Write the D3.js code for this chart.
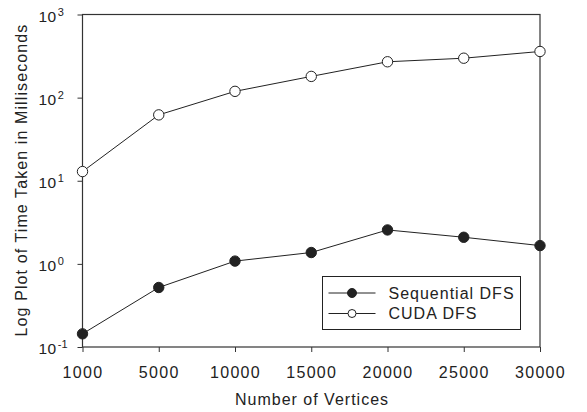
<!DOCTYPE html>
<html><head><meta charset="utf-8">
<script src="https://cdn.jsdelivr.net/npm/d3@7"></script>
<style>body{margin:0;background:#fff}svg{display:block}text{font-family:"Liberation Sans",Arial,sans-serif;fill:#222}</style>
</head><body>
<script>
const categories = [1000, 5000, 10000, 15000, 20000, 25000, 30000];
const sequentialDFS = [0.144, 0.52, 1.08, 1.37, 2.56, 2.09, 1.66];
const cudaDFS = [12.9, 62, 119, 180, 270, 298, 359];
const yTickExps = [-1, 0, 1, 2, 3];
const seriesNames = ["Sequential DFS", "CUDA DFS"];

const W = 587, H = 412;
const m = {left: 82.5, right: 47, top: 14.5, bottom: 65};
const svg = d3.select("body").append("svg").attr("width", W).attr("height", H);
const x = d3.scalePoint().domain(categories).range([m.left, W - m.right]);
const y = d3.scaleLog().domain([0.1, 1000]).range([H - m.bottom, m.top]);
const stroke = "#222";

// frame
svg.append("rect").attr("x", m.left).attr("y", m.top)
  .attr("width", W - m.right - m.left).attr("height", H - m.bottom - m.top)
  .attr("fill", "none").attr("stroke", "#333").attr("stroke-width", 1.2);

// axes
const xAxis = d3.axisBottom(x).tickSize(5).tickFormat(d => d);
const gx = svg.append("g").attr("transform", `translate(0,${H - m.bottom})`).call(xAxis);
gx.select(".domain").remove();
gx.selectAll(".tick line").attr("stroke", "#333");
gx.selectAll(".tick text").attr("dy", null).attr("y", 31).attr("font-size", "16px")
  .attr("letter-spacing", "1.3px").attr("fill", "#222");

const yAxis = d3.axisLeft(y).tickValues(yTickExps.map(e => Math.pow(10, e))).tickSize(5).tickFormat("");
const gy = svg.append("g").attr("transform", `translate(${m.left},0)`).call(yAxis);
gy.select(".domain").remove();
gy.selectAll(".tick line").attr("stroke", "#333");
gy.selectAll(".tick").each(function(d) {
  const e = Math.round(Math.log10(d));
  const t = d3.select(this).append("text").attr("y", 6.5)
    .attr("transform", "translate(-44,0)")
    .attr("text-anchor", "start").attr("font-size", "15.5px").attr("fill", "#222");
  t.append("tspan").attr("letter-spacing", "0.5px").text("10");
  t.append("tspan").attr("font-size", "11px").attr("dy", -6).attr("dx", 1).text(e);
});

// axis titles
svg.append("text").attr("x", 312).attr("y", 405).attr("text-anchor", "middle")
  .attr("font-size", "16px").attr("letter-spacing", "1px").text("Number of Vertices");
svg.append("text").attr("transform", "translate(27,180) rotate(-90)").attr("text-anchor", "middle")
  .attr("font-size", "16px").attr("letter-spacing", "1.1px").text("Log Plot of Time Taken in Milliseconds");

// lines
const line = d3.line().x((d, i) => x(categories[i])).y(d => y(d));
[[sequentialDFS, stroke], [cudaDFS, "#fff"]].forEach(([vals, fill]) => {
  svg.append("path").datum(vals).attr("d", line).attr("fill", "none").attr("stroke", stroke).attr("stroke-width", 1);
  svg.selectAll(null).data(vals).enter().append("circle")
    .attr("cx", (d, i) => x(categories[i])).attr("cy", d => y(d)).attr("r", 5.2)
    .attr("fill", fill).attr("stroke", stroke).attr("stroke-width", 1);
});

// legend
const lg = svg.append("g").attr("transform", "translate(322.5,276.5)");
lg.append("rect").attr("width", 198).attr("height", 53).attr("fill", "#fff").attr("stroke", stroke).attr("stroke-width", 1);
seriesNames.forEach((name, i) => {
  const yy = 16.5 + i * 20.5;
  lg.append("line").attr("x1", 6).attr("x2", 53).attr("y1", yy).attr("y2", yy).attr("stroke", stroke);
  lg.append("circle").attr("cx", 29.5).attr("cy", yy).attr("r", i === 0 ? 4.5 : 4)
    .attr("fill", i === 0 ? stroke : "#fff").attr("stroke", stroke);
  lg.append("text").attr("x", 66).attr("y", yy + 5.8).attr("font-size", "16px")
    .attr("letter-spacing", "1px").text(name);
});
</script>
</body></html>
